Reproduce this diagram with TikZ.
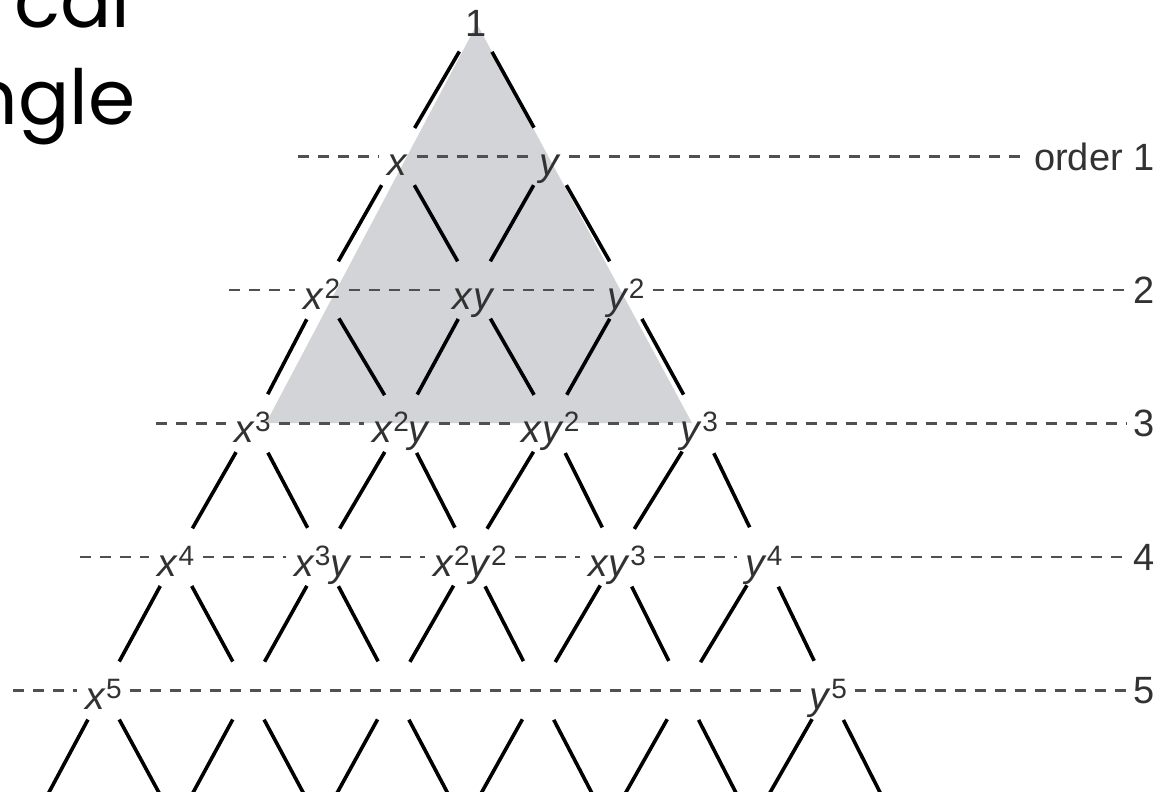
\documentclass[tikz,border=0pt]{standalone}
\usepackage{fontspec}
\setmainfont{Liberation Sans}
\newfontfamily\titlefont{Poppins}
\definecolor{triC}{RGB}{211,212,215}
\definecolor{dashC}{RGB}{80,80,80}
\definecolor{txtC}{RGB}{50,50,50}
\newcommand\su[1]{\raisebox{5.5pt}{\fontsize{14}{14}\selectfont #1}}
\newcommand\vx{\textit{x}}
\newcommand\vy{\textit{y}}
\tikzset{
  seg/.style={line width=1.8pt, black, shorten <=16.5pt, shorten >=16.5pt},
  dl/.style={line width=1.3pt, dashC, dash pattern=on 5.5pt off 4.5pt},
  lab/.style={inner xsep=4pt, inner ysep=0pt, text=txtC, font=\fontsize{19.5}{19.5}\selectfont, anchor=base, yshift=-9.5pt},
  rlab/.style={inner xsep=3pt, inner ysep=0pt, text=txtC, font=\fontsize{19}{19}\selectfont, anchor=east},
  ttl/.style={inner sep=0pt, anchor=base east, font=\titlefont\fontsize{38}{38}\selectfont}
}
\begin{document}
\begin{tikzpicture}[x=0.5pt, y=-0.5pt]
\useasboundingbox (0,0) rectangle (1168,792);
\clip (0,0) rectangle (1168,792);
\fill[white] (0,0) rectangle (1168,792);
% shaded triangle
\fill[triC] (477,24) -- (266,423) -- (692,423) -- cycle;
% lattice
\foreach \n/\c/\s in {0/476/0,1/474/152,2/474/152,3/476/149,4/470/147,5/466/145,6/464/144}{
  \foreach \k in {0,...,\n}{
    \coordinate (p-\n-\k) at ({\c+(\k-\n/2)*\s},{23+133.5*\n});
  }
}
% edges
\foreach \n in {0,...,5}{
  \pgfmathtruncatemacro\m{\n+1}
  \foreach \k in {0,...,\n}{
    \pgfmathtruncatemacro\kk{\k+1}
    \draw[seg] (p-\n-\k) -- (p-\m-\k);
    \draw[seg] (p-\n-\k) -- (p-\m-\kk);
  }
}
% title fragments
\node[ttl] (t1) at (131,28) {cal};
\node[ttl] (t2) at (136,125) {ngle};
% labels
\node[text=txtC, font=\fontsize{19}{19}\selectfont, inner sep=0pt] (l-0-0) at (p-0-0) {1};
\node[lab] (l-1-0) at (p-1-0) {\vx};
\node[lab] (l-1-1) at (p-1-1) {\vy};
\node[lab] (l-2-0) at (p-2-0) {\vx\su{2}};
\node[lab] (l-2-1) at (p-2-1) {\vx\vy};
\node[lab] (l-2-2) at (p-2-2) {\vy\su{2}};
\node[lab] (l-3-0) at (p-3-0) {\vx\su{3}};
\node[lab] (l-3-1) at (p-3-1) {\vx\su{2}\vy};
\node[lab] (l-3-2) at (p-3-2) {\vx\vy\su{2}};
\node[lab] (l-3-3) at (p-3-3) {\vy\su{3}};
\node[lab] (l-4-0) at (p-4-0) {\vx\su{4}};
\node[lab] (l-4-1) at (p-4-1) {\vx\su{3}\vy};
\node[lab] (l-4-2) at (p-4-2) {\vx\su{2}\vy\su{2}};
\node[lab] (l-4-3) at (p-4-3) {\vx\vy\su{3}};
\node[lab] (l-4-4) at (p-4-4) {\vy\su{4}};
\node[lab] (l-5-0) at (p-5-0) {\vx\su{5}};
\node[lab] (l-5-5) at (p-5-5) {\vy\su{5}};
% right labels
\node[rlab] (r-1) at (1161,156.5) {order 1};
\node[rlab] (r-2) at (1161,290) {2};
\node[rlab] (r-3) at (1161,423.5) {3};
\node[rlab] (r-4) at (1161,557) {4};
\node[rlab] (r-5) at (1161,690.5) {5};
% left starts
\coordinate (s-1) at (298,156.5);
\coordinate (s-2) at (229,290);
\coordinate (s-3) at (156,423.5);
\coordinate (s-4) at (80,557);
\coordinate (s-5) at (13,690.5);
% dashed order lines
\draw[dl] (s-1) -- (l-1-0.west |- s-1);
\draw[dl] (l-1-0.east |- s-1) -- (l-1-1.west |- s-1);
\draw[dl] (l-1-1.east |- s-1) -- (r-1.west);
\draw[dl] (s-2) -- (l-2-0.west |- s-2);
\draw[dl] (l-2-0.east |- s-2) -- (l-2-1.west |- s-2);
\draw[dl] (l-2-1.east |- s-2) -- (l-2-2.west |- s-2);
\draw[dl] (l-2-2.east |- s-2) -- (r-2.west);
\draw[dl] (s-3) -- (l-3-0.west |- s-3);
\draw[dl] (l-3-0.east |- s-3) -- (l-3-1.west |- s-3);
\draw[dl] (l-3-1.east |- s-3) -- (l-3-2.west |- s-3);
\draw[dl] (l-3-2.east |- s-3) -- (l-3-3.west |- s-3);
\draw[dl] (l-3-3.east |- s-3) -- (r-3.west);
\draw[dl] (s-4) -- (l-4-0.west |- s-4);
\draw[dl] (l-4-0.east |- s-4) -- (l-4-1.west |- s-4);
\draw[dl] (l-4-1.east |- s-4) -- (l-4-2.west |- s-4);
\draw[dl] (l-4-2.east |- s-4) -- (l-4-3.west |- s-4);
\draw[dl] (l-4-3.east |- s-4) -- (l-4-4.west |- s-4);
\draw[dl] (l-4-4.east |- s-4) -- (r-4.west);
\draw[dl] (s-5) -- (l-5-0.west |- s-5);
\draw[dl] (l-5-0.east |- s-5) -- (l-5-5.west |- s-5);
\draw[dl] (l-5-5.east |- s-5) -- (r-5.west);
\end{tikzpicture}
\end{document}
